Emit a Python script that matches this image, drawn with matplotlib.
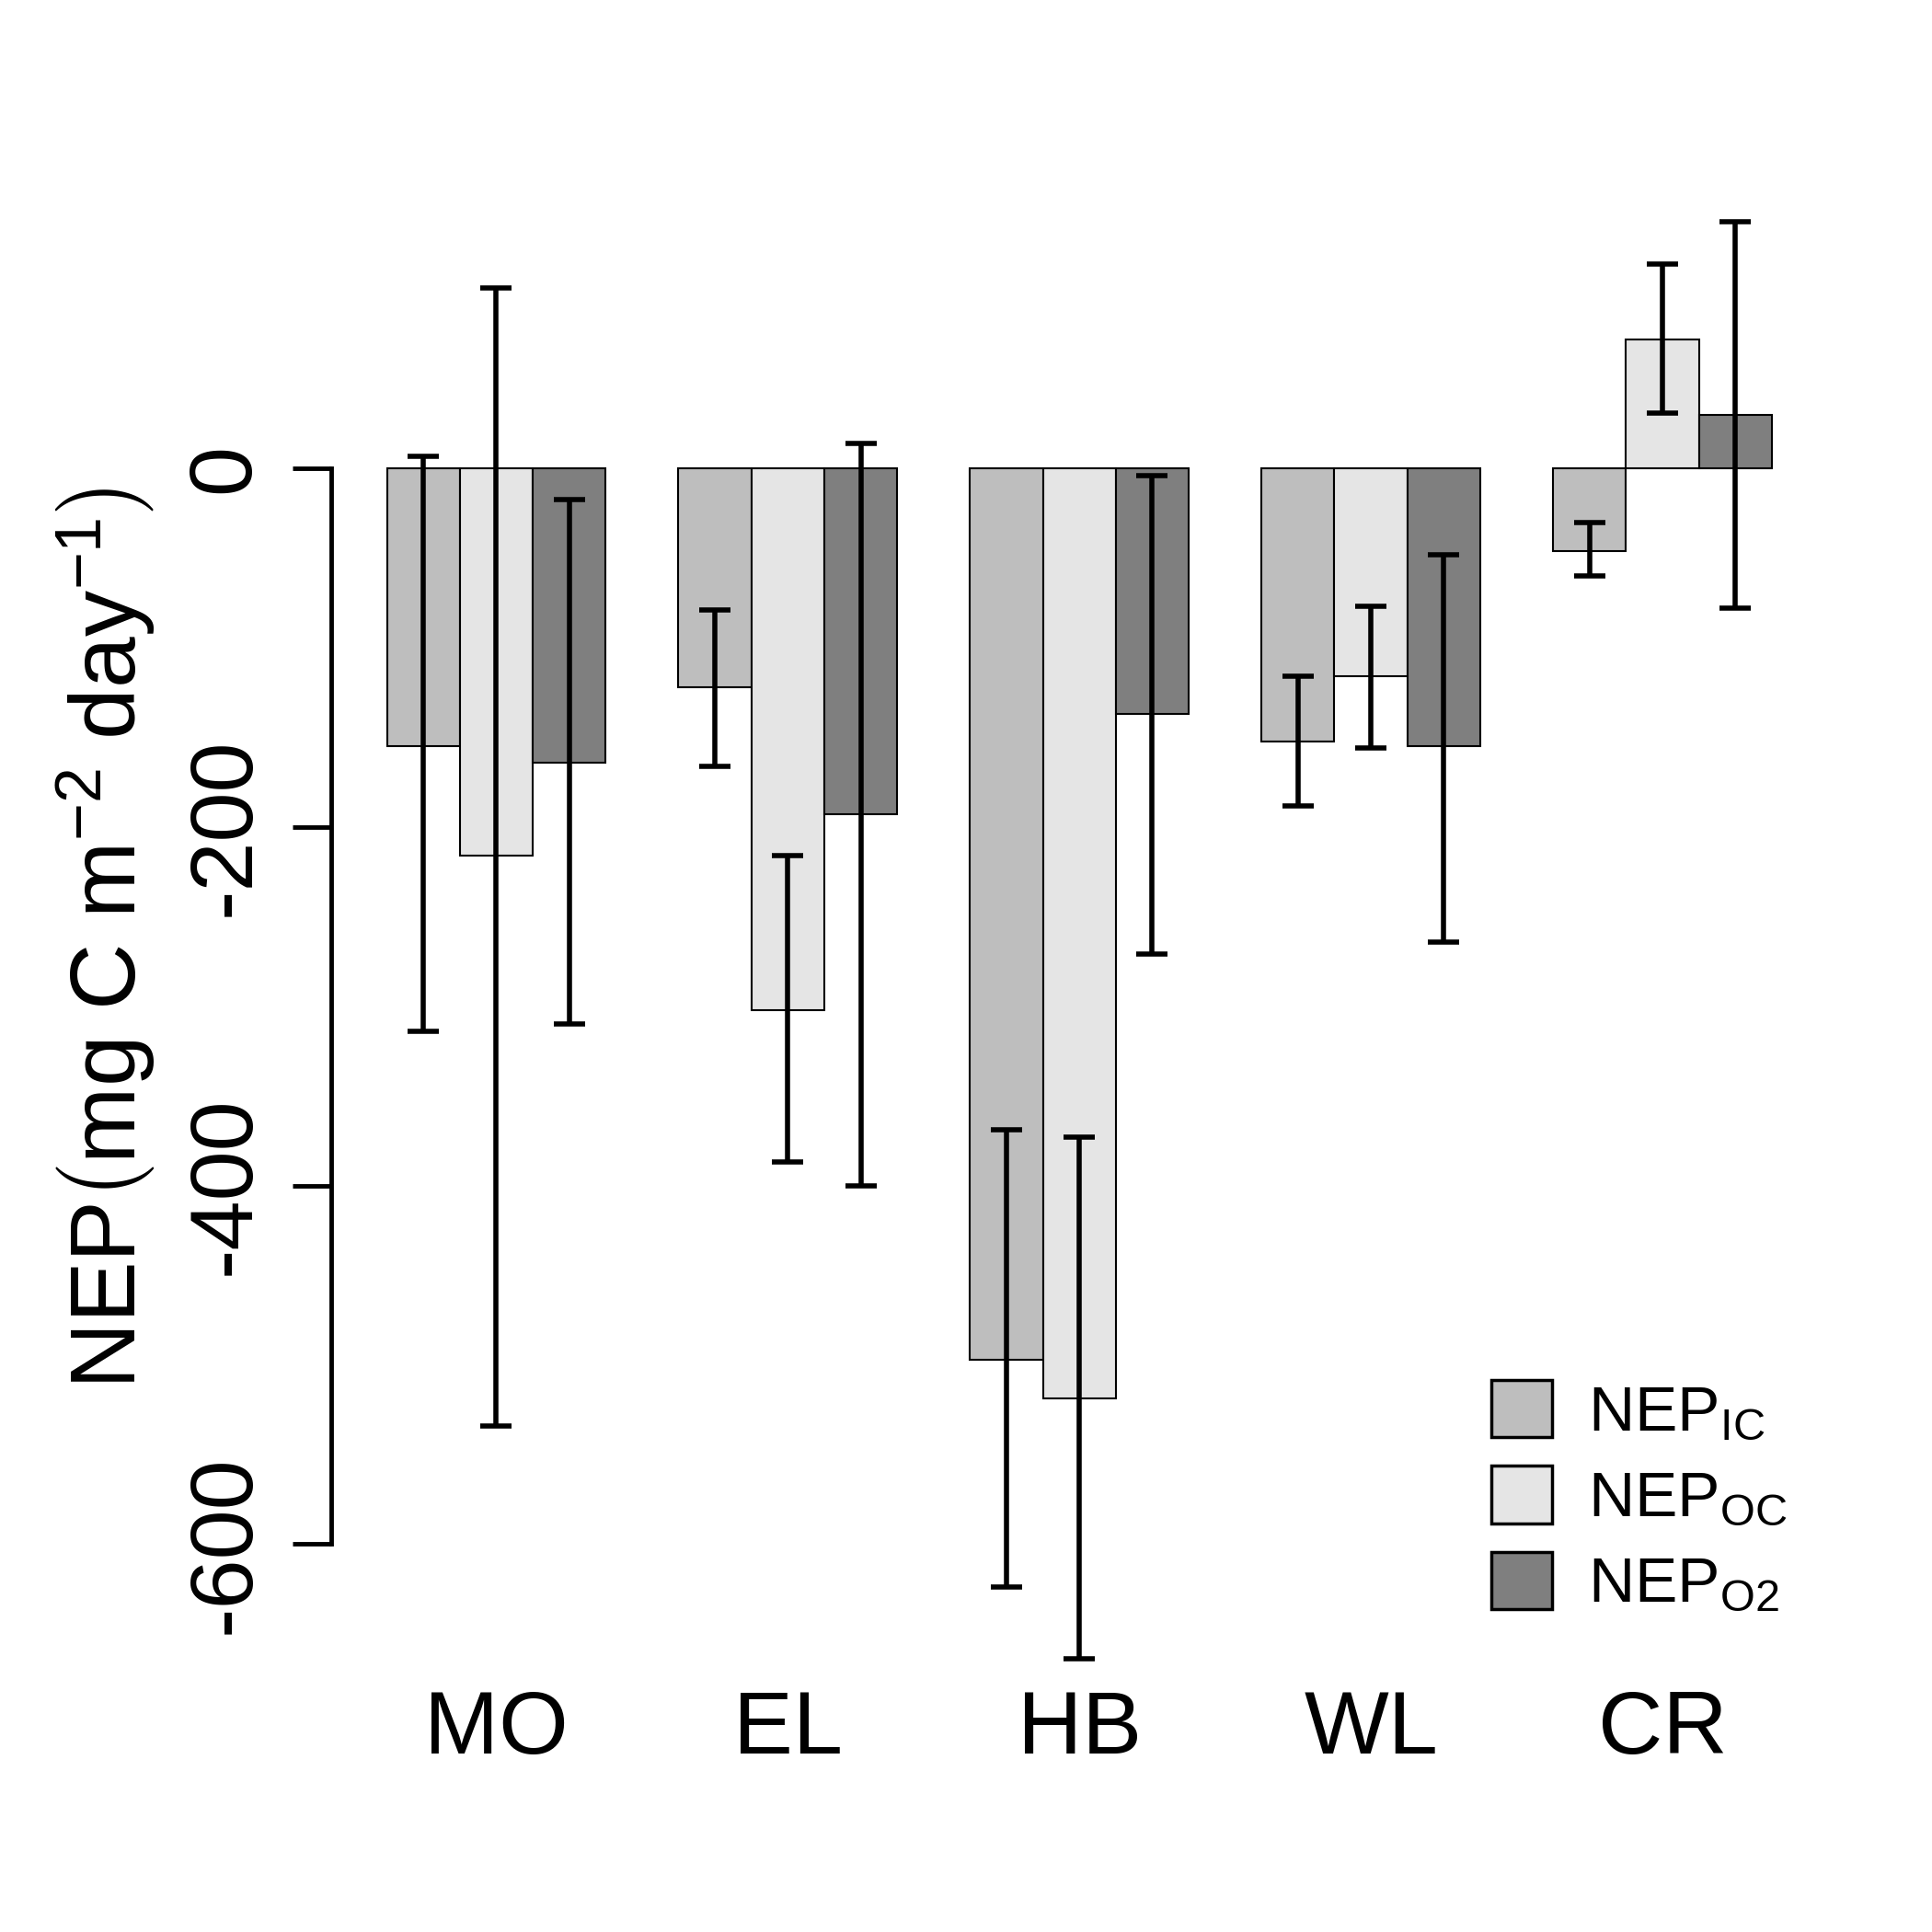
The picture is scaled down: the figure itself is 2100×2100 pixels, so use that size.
import matplotlib
matplotlib.use('Agg')
import matplotlib.pyplot as plt
import numpy as np
from matplotlib.patches import Patch

plt.rcParams['font.family'] = ['Liberation Sans', 'DejaVu Sans']
plt.rcParams['mathtext.fontset'] = 'custom'
plt.rcParams['mathtext.rm'] = 'Liberation Sans'
plt.rcParams['mathtext.it'] = 'Liberation Sans'

sites = ['MO', 'EL', 'HB', 'WL', 'CR']
series = ['IC', 'OC', 'O2']
colors = ['#bebebe', '#e5e5e5', '#7f7f7f']
# mean values per site for each series
nep = {
    'IC': [-155, -122, -497, -152, -46],
    'OC': [-216, -302, -519, -116, 72],
    'O2': [-164, -193, -137, -155, 30],
}
err_hi = {
    'IC': [7, -79, -369, -116, -30],
    'OC': [101, -216, -373, -77, 114],
    'O2': [-17, 14, -4, -48, 138],
}
err_lo = {
    'IC': [-314, -166, -624, -188, -60],
    'OC': [-534, -387, -664, -156, 31],
    'O2': [-310, -400, -271, -264, -78],
}

fig = plt.figure(figsize=(21, 21), dpi=100)
ax = fig.add_axes([0, 0, 1, 1])
ax.set_xlim(-4.31, 22.2)
ax.set_ylim(-816.5, 261.5)

starts = 1 + 4 * np.arange(len(sites))
for j, s in enumerate(series):
    xc = starts + j + 0.5
    ax.bar(xc, nep[s], width=1, color=colors[j], edgecolor='black', linewidth=1.5)
    lo = np.array(err_lo[s]); hi = np.array(err_hi[s])
    ax.errorbar(xc, (lo + hi) / 2, yerr=(hi - lo) / 2, fmt='none', ecolor='black',
                elinewidth=4, capsize=12.5, capthick=4)

for sc, lab in zip(starts + 1.5, sites):
    ax.text(sc, -704, lab, ha='center', va='center', fontsize=70)

for sp in ['top', 'right', 'bottom']:
    ax.spines[sp].set_visible(False)
ax.spines['left'].set_position(('data', 0.237))
ax.spines['left'].set_bounds(-600, 0)
ax.spines['left'].set_linewidth(3.5)
ax.set_xticks([])
ax.set_yticks([-600, -400, -200, 0])
ax.set_yticklabels(['-600', '-400', '-200', '0'], rotation=90, va='center', fontsize=70)
ax.tick_params(axis='y', length=30, width=3.5, pad=20)
ax.patch.set_visible(False)

ax.text(-2.85, -262, r'NEP$\left(\mathrm{mg\ C\ m^{-2}\ day^{-1}}\right)$', rotation=90,
        ha='center', va='center', fontsize=72)

handles = [Patch(facecolor=c, edgecolor='black', linewidth=2.5) for c in colors]
labels = [r'NEP$_{\mathrm{IC}}$', r'NEP$_{\mathrm{OC}}$', r'NEP$_{\mathrm{O2}}$']
ax.legend(handles, labels, loc='upper left', bbox_to_anchor=(1158 / 1560, 1 - 1068 / 1560),
          bbox_transform=fig.transFigure, frameon=False, fontsize=50,
          handlelength=0.95, handleheight=1.0, handletextpad=0.55, labelspacing=0.35)

fig.savefig('out.png', dpi=100)
